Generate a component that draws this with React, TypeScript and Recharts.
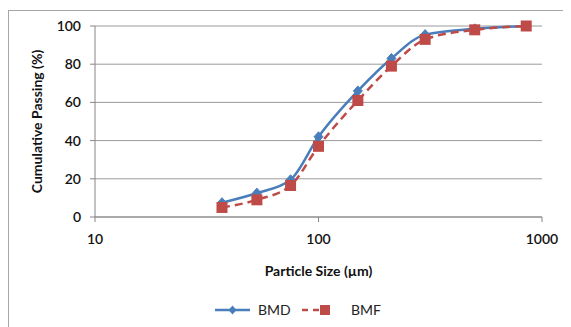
import { CartesianGrid, Label, Legend, Line, LineChart, XAxis, YAxis } from "recharts";

const sizes = [37, 53, 75, 100, 150, 212, 300, 500, 850];
const bmd = [7.5, 12.5, 19.5, 42, 66, 83, 95.5, 98.5, 100];
const bmf = [5, 9, 16.5, 37, 61, 79, 93, 98, 100];
const xTicks = [10, 100, 1000];
const yTicks = [0, 20, 40, 60, 80, 100];

const data = sizes.map((size, i) => ({ size, BMD: bmd[i], BMF: bmf[i] }));

const BLUE = "#4a7ebb";
const RED = "#be4b48";

function Diamond(props: any) {
  const { cx, cy } = props;
  if (cx == null || cy == null) return null;
  return <path d={`M${cx},${cy - 5}L${cx + 4.5},${cy}L${cx},${cy + 5}L${cx - 4.5},${cy}Z`} fill={BLUE} stroke={BLUE} />;
}

function Square(props: any) {
  const { cx, cy } = props;
  if (cx == null || cy == null) return null;
  return <rect x={cx - 5.5} y={cy - 5.5} width={11} height={11} fill={RED} />;
}

function LegendBox() {
  return (
    <svg width={562} height={20} style={{ display: "block" }}>
      <g transform="translate(206,10)">
        <line x1={0} y1={0} x2={35} y2={0} stroke={BLUE} strokeWidth={2.5} />
        <path d="M17.5,-4.5L21.5,0L17.5,4.5L13.5,0Z" fill={BLUE} />
        <text x={43} y={5} fontSize={14} fill="#222">BMD</text>
        <line x1={87} y1={0} x2={120} y2={0} stroke={RED} strokeWidth={2.5} strokeDasharray="6 5" />
        <rect x={105} y={-5} width={10} height={10} fill={RED} />
        <text x={136} y={5} fontSize={14} fill="#222">BMF</text>
      </g>
    </svg>
  );
}

export default function App() {
  return (
    <div
      style={{
        width: 563,
        height: 317,
        marginTop: 2,
        borderLeft: "1px solid #a6a6a6",
        borderTop: "1px solid #a6a6a6",
        fontFamily: "Lato, 'Open Sans', sans-serif",
      }}
    >
      <LineChart width={562} height={316} data={data} margin={{ top: 15, right: 29, bottom: 25, left: 0 }}>
        <CartesianGrid vertical={false} stroke="#9a9a9a" />
        <XAxis
          dataKey="size"
          type="number"
          scale="log"
          domain={[10, 1000]}
          ticks={xTicks}
          allowDataOverflow
          height={65}
          stroke="#868686"
          tickSize={5}
          tickMargin={12}
          tick={{ fontSize: 14, fill: "#111", fontWeight: 600 }}
        >
          <Label value="Particle Size (µm)" position="insideBottom" offset={6} style={{ fontSize: 14, fontWeight: 700, fill: "#111" }} />
        </XAxis>
        <YAxis
          domain={[0, 100]}
          ticks={yTicks}
          width={86}
          stroke="#868686"
          tickSize={5}
          tickMargin={9}
          tick={{ fontSize: 14, fill: "#111", fontWeight: 600 }}
        >
          <Label
            value="Cumulative Passing (%)"
            angle={-90}
            position="insideLeft"
            offset={28}
            style={{ fontSize: 14, fontWeight: 700, fill: "#111", textAnchor: "middle" }}
          />
        </YAxis>
        <Legend content={<LegendBox />} wrapperStyle={{ top: 289, left: 0, width: 562 }} />
        <Line
          type="monotone"
          dataKey="BMD"
          stroke={BLUE}
          strokeWidth={2.5}
          dot={<Diamond />}
          isAnimationActive={false}
        />
        <Line
          type="monotone"
          dataKey="BMF"
          stroke={RED}
          strokeWidth={2.5}
          strokeDasharray="8 5"
          dot={<Square />}
          isAnimationActive={false}
        />
      </LineChart>
    </div>
  );
}
